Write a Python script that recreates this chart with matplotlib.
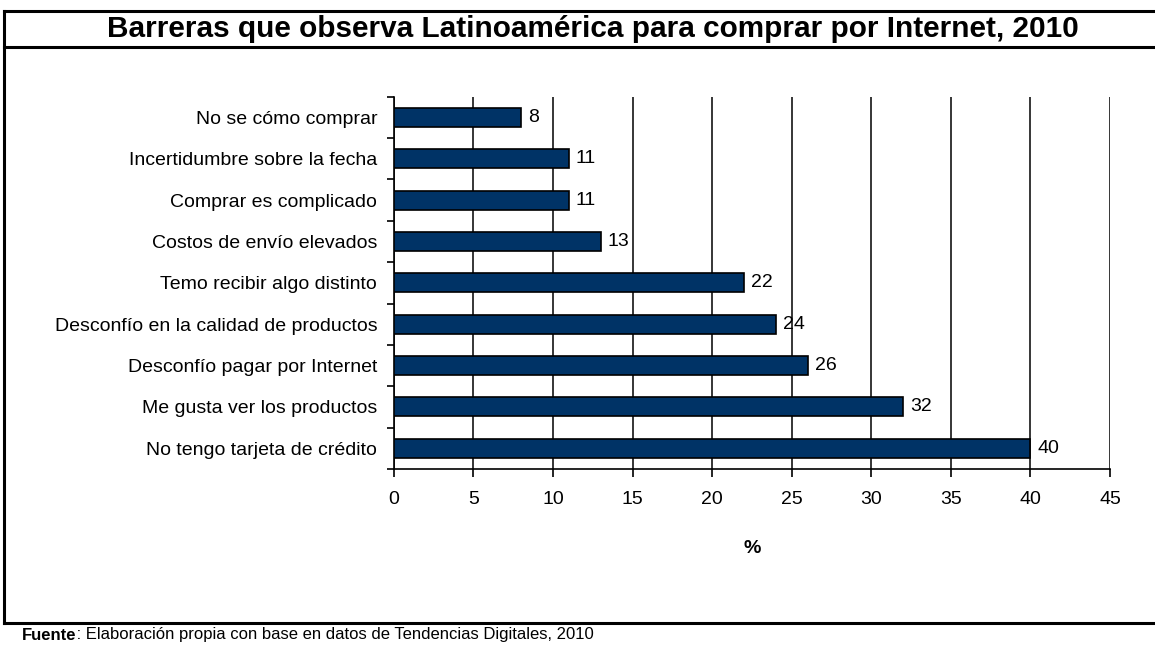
import matplotlib.pyplot as plt
from matplotlib.lines import Line2D

plt.rcParams['font.family'] = ['Liberation Sans', 'DejaVu Sans']

categories = [
    "No tengo tarjeta de crédito",
    "Me gusta ver los productos",
    "Desconfío pagar por Internet",
    "Desconfío en la calidad de productos",
    "Temo recibir algo distinto",
    "Costos de envío elevados",
    "Comprar es complicado",
    "Incertidumbre sobre la fecha",
    "No se cómo comprar",
]
values = [40, 32, 26, 24, 22, 13, 11, 11, 8]
x_ticks = [0, 5, 10, 15, 20, 25, 30, 35, 40, 45]

fig = plt.figure(figsize=(11.55, 6.45), dpi=100)
ax = fig.add_axes([0.341, 0.273, 0.620, 0.577])

pos = list(range(len(categories)))
ax.barh(pos, values, height=0.46, color='#003366', edgecolor='black', linewidth=1.2, zorder=3)
for p, v in zip(pos, values):
    ax.annotate(str(v), (v, p), xytext=(5, 0), textcoords='offset points',
                va='center', ha='left', fontsize=14)

ax.set_xlim(0, 45)
ax.set_ylim(-0.5, len(categories) - 0.5)
ax.set_xticks(x_ticks)
ax.set_xticklabels([str(t) for t in x_ticks], fontsize=14)
ax.set_yticks(pos)
ax.set_yticklabels(categories, fontsize=14)
ax.tick_params(axis='y', length=0, pad=12)
ax.set_yticks([p - 0.5 for p in pos] + [len(categories) - 0.5], minor=True)
ax.tick_params(axis='y', which='minor', length=5, width=1.2, direction='out')
ax.tick_params(axis='x', length=6, width=1.2, direction='out', pad=10)
ax.xaxis.grid(True, color='black', linewidth=1.1, zorder=0)
ax.set_xlabel('%', fontsize=14, fontweight='bold', labelpad=23)

for s in ['top', 'right']:
    ax.spines[s].set_visible(False)
for s in ['left', 'bottom']:
    ax.spines[s].set_linewidth(1.2)

# outer frame
def hline(y, x0=4, x1=1155, lw=2.2):
    fig.add_artist(Line2D([x0 / 1155, x1 / 1155], [1 - y / 645, 1 - y / 645],
                          color='black', linewidth=lw, transform=fig.transFigure))

hline(11)
hline(47)
hline(623)
fig.add_artist(Line2D([4 / 1155, 4 / 1155], [1 - 11 / 645, 1 - 623 / 645],
                      color='black', linewidth=2.2, transform=fig.transFigure))

fig.text(593 / 1155, 1 - 29 / 645, "Barreras que observa Latinoamérica para comprar por Internet, 2010",
         ha='center', va='center', fontsize=21.4, fontweight='bold')

fig.text(22 / 1155, 1 - 635 / 645, "Fuente", ha='left', va='center', fontsize=12, fontweight='bold')
fig.text(72 / 1155, 1 - 635 / 645, " : Elaboración propia con base en datos de Tendencias Digitales, 2010",
         ha='left', va='center', fontsize=12)

fig.savefig('out.png', dpi=100)
